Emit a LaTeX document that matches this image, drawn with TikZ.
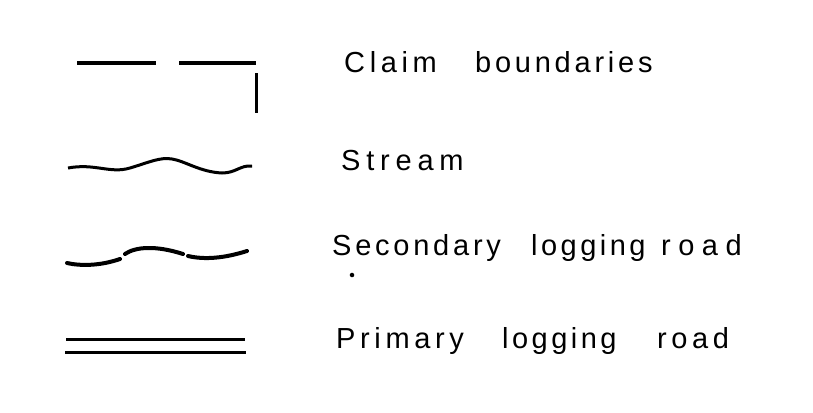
\documentclass[tikz,border=0pt]{standalone}
\usepackage{fontspec}
\setmainfont{Liberation Sans}[LetterSpace=16]
\newcommand{\wordbox}[2]{\makebox[#1][l]{#2}}
\newcommand{\spaced}[2]{{\addfontfeature{LetterSpace=#1}#2}}
\begin{document}
\begin{tikzpicture}[x=1pt,y=-1pt,
  lbl/.style={anchor=base west,inner sep=0pt,font=\fontsize{29}{32}\selectfont},
  thin line/.style={line width=3pt},
  road/.style={line width=4pt,line cap=round}]
\useasboundingbox (0,0) rectangle (813,412);
% Claim boundaries
\coordinate (c1) at (77,63);
\coordinate (c2) at (156,63);
\coordinate (c3) at (179,63);
\coordinate (c4) at (256,63);
\coordinate (c5) at (256,73);
\coordinate (c6) at (256,113);
\draw[thin line] (c1) -- (c2);
\draw[thin line] (c3) -- (c4);
\draw[thin line] (c5) -- (c6);
\node[lbl] (claim) at (344,72) {\wordbox{131pt}{Claim}\spaced{13}{boundaries}};
% Stream
\coordinate (s1) at (68,168);
\coordinate (s2) at (252,166);
\draw[thin line] (s1) .. controls (95,163) and (110,174) .. (130,168)
  .. controls (150,162) and (160,157) .. (172,159)
  .. controls (185,161) and (200,172) .. (222,173)
  .. controls (236,173) and (240,165) .. (s2);
\node[lbl] (stream) at (341,170) {\spaced{20}{Stream}};
% Secondary logging road
\coordinate (r1) at (67,263);
\coordinate (r2) at (120,259);
\coordinate (r3) at (125,254);
\coordinate (r4) at (183,254);
\coordinate (r5) at (188,256);
\coordinate (r6) at (247,251);
\draw[road] (r1) .. controls (80,266) and (100,266) .. (r2);
\draw[road] (r3) .. controls (135,247) and (155,245) .. (r4);
\draw[road] (r5) .. controls (205,260) and (225,258) .. (r6);
\node[lbl] (secondary) at (332,255) {\wordbox{199pt}{\spaced{13}{Secondary}}\wordbox{130pt}{\spaced{12}{logging}}\spaced{26}{road}};
\node[circle,fill,inner sep=1.6pt] (dot) at (352,275) {};
% Primary logging road
\coordinate (p1) at (66,339);
\coordinate (p2) at (245,339);
\coordinate (p3) at (65,352);
\coordinate (p4) at (246,352);
\draw[thin line] (p1) -- (p2);
\draw[thin line] (p3) -- (p4);
\node[lbl] (primary) at (336,348) {\wordbox{166pt}{Primary}\wordbox{155pt}{\spaced{12}{logging}}road};
\end{tikzpicture}
\end{document}
